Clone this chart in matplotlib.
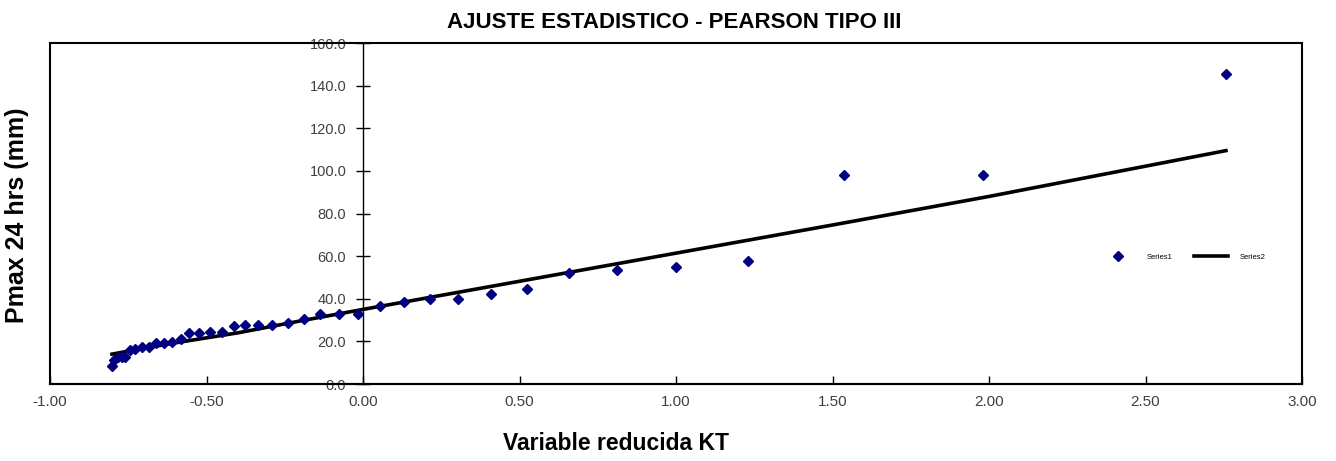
import matplotlib
matplotlib.use("Agg")
import matplotlib.pyplot as plt
from matplotlib.patches import Rectangle
from matplotlib.ticker import FormatStrFormatter

plt.rcParams['font.family'] = ['Liberation Sans', 'DejaVu Sans']

# Series1: observed values vs reduced variable KT
kt_obs = [-0.802, -0.797, -0.784, -0.771, -0.760, -0.744, -0.727, -0.706, -0.685,
          -0.660, -0.637, -0.609, -0.581, -0.555, -0.523, -0.488, -0.452, -0.413,
          -0.377, -0.334, -0.291, -0.241, -0.189, -0.136, -0.076, -0.015, 0.055,
          0.131, 0.214, 0.304, 0.408, 0.523, 0.658, 0.812, 1.000, 1.231, 1.537,
          1.981, 2.757]
p_obs = [8.5, 11.3, 12.5, 12.8, 12.5, 16.0, 16.3, 17.2, 17.2,
         19.1, 19.1, 19.6, 21.0, 24.1, 24.1, 24.5, 24.5, 27.2,
         27.7, 27.7, 27.7, 28.8, 30.6, 32.7, 33.0, 33.0, 36.6,
         38.7, 40.1, 40.1, 42.2, 44.4, 52.2, 53.3, 54.8, 57.6, 98.1,
         98.1, 145.5]

# Series2: Pearson III fitted curve
kt_fit = [-0.802, -0.70, -0.60, -0.40, -0.20, 0.0, 0.50, 1.00, 1.50, 2.00, 2.757]
p_fit = [14.0, 16.8, 19.3, 24.0, 29.6, 35.0, 48.2, 61.4, 74.6, 88.0, 109.5]

fig = plt.figure(figsize=(13.36, 4.61), dpi=100)
ax = fig.add_axes([50/1336, 1-384/461, 1252/1336, 341/461])

ax.plot(kt_obs, p_obs, linestyle='none', marker='D', markersize=5,
        color='#000080', label='Series1', zorder=3)
ax.plot(kt_fit, p_fit, color='black', linewidth=2.6, label='Series2', zorder=2)

ax.set_xlim(-1, 3)
ax.set_ylim(0, 160)
ax.set_xticks([-1, -0.5, 0, 0.5, 1, 1.5, 2, 2.5, 3])
ax.set_yticks(range(0, 161, 20))
ax.xaxis.set_major_formatter(FormatStrFormatter('%.2f'))
ax.yaxis.set_major_formatter(FormatStrFormatter('%.1f'))

ax.spines['left'].set_position(('data', 0))
for s in ['right', 'top']:
    ax.spines[s].set_visible(False)
ax.spines['left'].set_linewidth(1.0)
ax.spines['bottom'].set_linewidth(1.5)
ax.add_patch(Rectangle((0, 0), 1, 1, transform=ax.transAxes, fill=False,
                       linewidth=1.5, edgecolor='black', clip_on=False, zorder=5))

ax.tick_params(axis='y', direction='inout', length=10, width=1, labelsize=10.5,
               labelcolor='#404040', pad=7)
ax.tick_params(axis='x', direction='in', length=6, width=1, labelsize=11,
               labelcolor='#404040', pad=8)

ax.legend(loc='center', bbox_to_anchor=(0.905, 0.372), ncol=2, frameon=False,
          fontsize=5.5, handlelength=4.5, columnspacing=2.8, handletextpad=1.5)

fig.text(0.505, 1-22/461, 'AJUSTE ESTADISTICO - PEARSON TIPO III', ha='center',
         va='center', fontsize=16, fontweight='bold')
fig.text(0.461, 1-443/461, 'Variable reducida KT', ha='center', va='center',
         fontsize=16.5, fontweight='bold')
fig.text(17/1336, 1-215/461, 'Pmax 24 hrs (mm)', ha='center', va='center',
         rotation=90, fontsize=18, fontweight='bold')

fig.savefig('out.png', dpi=100)
